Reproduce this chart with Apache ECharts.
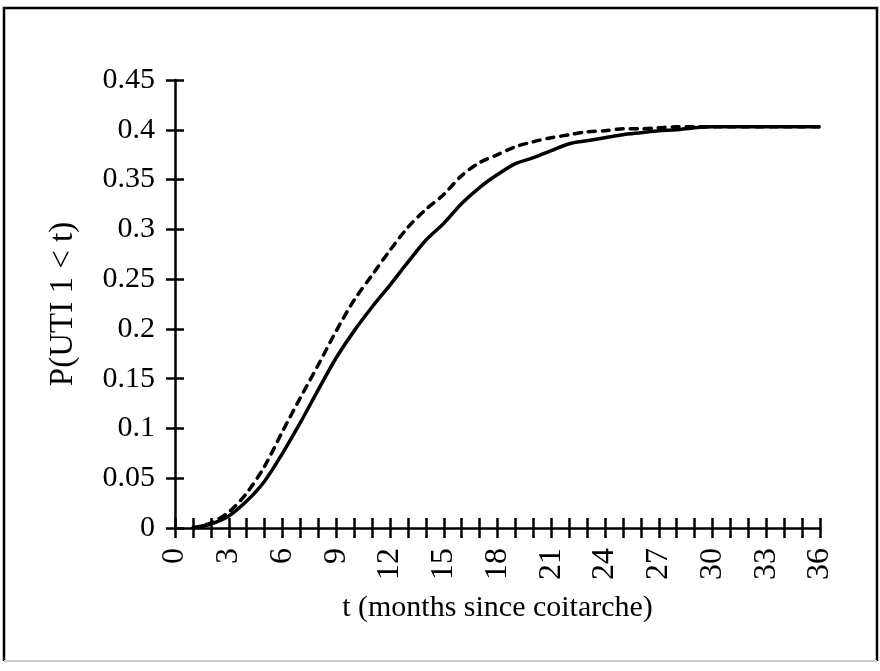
<!DOCTYPE html>
<html>
<head>
<meta charset="utf-8">
<script src="https://cdn.jsdelivr.net/npm/echarts@6/dist/echarts.min.js"></script>
<style>
  html, body { margin: 0; padding: 0; background: #fff; }
  #chart { width: 880px; height: 671px; }
</style>
</head>
<body>
<div id="chart"></div>
<script>
// months since coitarche
var months = [1, 2, 3, 4, 5, 6, 7, 8, 9, 10, 11, 12, 13, 14, 15, 16, 17, 18,
  19, 20, 21, 22, 23, 24, 25, 26, 27, 28, 29, 30, 31, 32, 33, 34, 35, 36];
// solid curve
var solidVals = [0, 0.004, 0.012, 0.027, 0.047, 0.075, 0.106, 0.139, 0.171, 0.198,
  0.222, 0.244, 0.267, 0.289, 0.306, 0.326, 0.342, 0.355, 0.366, 0.372,
  0.379, 0.386, 0.389, 0.392, 0.395, 0.397, 0.399, 0.4, 0.402, 0.403,
  0.403, 0.403, 0.403, 0.403, 0.403, 0.403];
// dashed curve
var dashedVals = [0, 0.005, 0.016, 0.035, 0.062, 0.097, 0.131, 0.164, 0.198, 0.229,
  0.254, 0.279, 0.302, 0.32, 0.335, 0.354, 0.367, 0.375, 0.383, 0.388,
  0.392, 0.395, 0.398, 0.399, 0.401, 0.401, 0.402, 0.403, 0.403, 0.403,
  0.403, 0.403, 0.403, 0.403, 0.403, 0.403];
var xTickLabels = [0, 3, 6, 9, 12, 15, 18, 21, 24, 27, 30, 33, 36];

function pairs(xs, ys) {
  var out = [];
  for (var i = 0; i < xs.length; i++) out.push([xs[i], ys[i]]);
  return out;
}

var font = '"Liberation Serif", "Times New Roman", serif';
var chart = echarts.init(document.getElementById('chart'));

var xBase = {
  type: 'value', min: 0, max: 36, interval: 1,
  splitLine: { show: false }
};
var yBase = {
  type: 'value', min: 0, max: 0.45, interval: 0.05,
  splitLine: { show: false }
};

chart.setOption({
  animation: false,
  backgroundColor: '#fff',
  grid: { left: 175, top: 80, right: 60, bottom: 143, containLabel: false },
  xAxis: [
    Object.assign({}, xBase, {
      name: 't (months since coitarche)',
      nameLocation: 'middle',
      nameGap: 65,
      nameTextStyle: { fontFamily: font, fontSize: 30, color: '#000' },
      axisLine: { lineStyle: { color: '#000', width: 2.5 } },
      axisTick: { length: 10, lineStyle: { color: '#000', width: 2.5 } },
      axisLabel: {
        rotate: 90, margin: 20, fontFamily: font, fontSize: 32, color: '#000',
        formatter: function (v) { return xTickLabels.indexOf(v) >= 0 ? String(v) : ''; }
      }
    }),
    Object.assign({}, xBase, {
      position: 'bottom',
      axisLine: { show: false },
      axisTick: { inside: true, length: 10, lineStyle: { color: '#000', width: 2.5 } },
      axisLabel: { show: false }
    })
  ],
  yAxis: [
    Object.assign({}, yBase, {
      name: 'P(UTI 1 < t)',
      nameLocation: 'middle',
      nameGap: 95,
      nameTextStyle: { fontFamily: font, fontSize: 33, color: '#000' },
      axisLine: { lineStyle: { color: '#000', width: 2.5 } },
      axisTick: { length: 9, lineStyle: { color: '#000', width: 2.5 } },
      axisLabel: { margin: 20, fontFamily: font, fontSize: 30, color: '#000' }
    }),
    Object.assign({}, yBase, {
      position: 'left',
      axisLine: { show: false },
      axisTick: { inside: true, length: 9, lineStyle: { color: '#000', width: 2.5 } },
      axisLabel: { show: false }
    })
  ],
  series: [
    {
      type: 'line', xAxisIndex: 0, yAxisIndex: 0,
      data: pairs(months, solidVals),
      smooth: 0.3, symbol: 'none',
      lineStyle: { color: '#000', width: 3.5 }
    },
    {
      type: 'line', xAxisIndex: 0, yAxisIndex: 0,
      data: pairs(months, dashedVals),
      smooth: 0.3, symbol: 'none',
      lineStyle: { color: '#000', width: 3.5, type: [7, 7], cap: 'round' }
    }
  ],
  graphic: [
    {
      type: 'polyline',
      shape: { points: [[4, 661], [4, 8], [877, 8], [877, 661]] },
      style: { stroke: '#000', lineWidth: 2.5, fill: null }
    },
    {
      type: 'line',
      shape: { x1: 4, y1: 661, x2: 877, y2: 661 },
      style: { stroke: '#ccc', lineWidth: 2 }
    }
  ]
});
</script>
</body>
</html>
